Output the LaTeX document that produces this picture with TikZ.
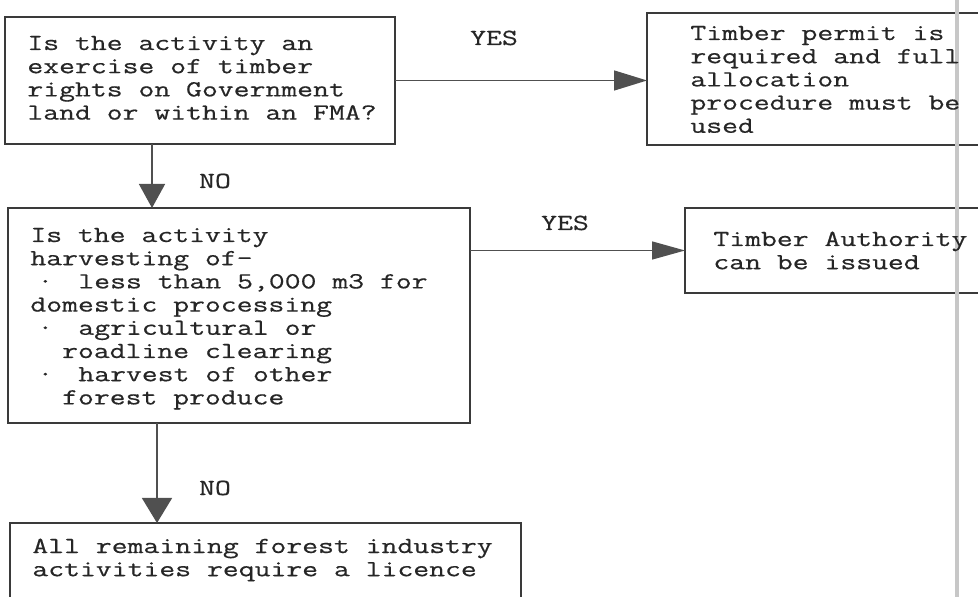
\documentclass[tikz,border=0pt]{standalone}
\usepackage{fontspec}
\setmonofont{Latin Modern Mono}[FakeStretch=1.34,FakeBold=0.5]
\usetikzlibrary{arrows.meta}
\definecolor{boxc}{HTML}{3A3A3A}
\definecolor{arrc}{HTML}{505050}
\definecolor{txtc}{HTML}{262626}
\newcommand\bodyfont{\fontsize{11.5}{11.6}\selectfont\ttfamily}
\newcommand\txtlines[1]{\vtop{\baselineskip=11.6pt\lineskiplimit=-100pt\lineskip=0pt\halign{##\hfil\cr#1\crcr}}}
\newcommand\bul{\makebox[24pt][l]{\hspace{3.5pt}·}}
\begin{document}
\begin{tikzpicture}[x=0.5pt,y=-0.5pt,
  box/.style={draw=boxc, line width=0.9pt, rectangle, inner sep=0pt, outer sep=0pt, anchor=north west},
  txt/.style={anchor=base west, inner sep=0pt, text=txtc, font=\bodyfont},
  lab/.style={anchor=base, inner sep=0pt, text=txtc, font=\bodyfont},
  harr/.style={draw=arrc, line width=0.7pt, -{Triangle[length=16.5pt,width=10pt]}},
  harrb/.style={draw=arrc, line width=0.7pt, -{Triangle[length=16.5pt,width=9pt]}},
  varr/.style={draw=arrc, line width=0.7pt, -{Triangle[length=12pt,width=13pt]}},
  varrb/.style={draw=arrc, line width=0.7pt, -{Triangle[length=12.5pt,width=15pt]}}
]
\clip (0,0) rectangle (978,597);
\fill[white] (0,0) rectangle (978,597);

% boxes
\node[box, minimum width=195pt, minimum height=63.5pt] (b1) at (5,17) {};
\node[box, minimum width=200pt, minimum height=66pt] (b2) at (647,13) {};
\node[box, minimum width=231pt, minimum height=107.5pt] (b3) at (8,208) {};
\node[box, minimum width=200pt, minimum height=42.5pt] (b4) at (685,208) {};
\node[box, minimum width=255.5pt, minimum height=50pt] (b5) at (10,523) {};

% scan line
\draw[line width=1.6pt, color=black!22] (957,0) -- (957,597);

% texts
\node[txt] (t1) at (27,50) {\txtlines{Is the activity an\cr
exercise of timber\cr
rights on Government\cr
land or within an FMA?}};
\node[txt] (t2) at (690,40) {\txtlines{Timber permit is\cr
required and full\cr
allocation\cr
procedure must be\cr
used}};
\node[txt] (t3) at (30,242) {\txtlines{Is the activity\cr
harvesting of—\cr
\bul less than 5,000 m3 for\cr
domestic processing\cr
\bul agricultural or\cr
\ \ roadline clearing\cr
\bul harvest of other\cr
\ \ forest produce}};
\node[txt] (t4) at (713,246) {\txtlines{Timber Authority\cr
can be issued}};
\node[txt] (t5) at (32,553) {\txtlines{All remaining forest industry\cr
activities require a licence}};

% connectors
\draw[harr] (b1.east) -- (b1.east -| b2.west);
\draw[harrb] (b4.west -| b3.east) -- (b4.west);
\path (b1.south west) ++(147,0) coordinate (s1);
\draw[varr] (s1) -- (s1 |- b3.north);
\path (b3.south west) ++(149,0) coordinate (s2);
\draw[varrb] (s2) -- (s2 |- b5.north);

% labels
\node[lab] (y1) at (494,45) {YES};
\node[lab] (y2) at (565,230) {YES};
\node[lab] (n1) at (215,188) {NO};
\node[lab] (n2) at (215,495) {NO};
\end{tikzpicture}
\end{document}
